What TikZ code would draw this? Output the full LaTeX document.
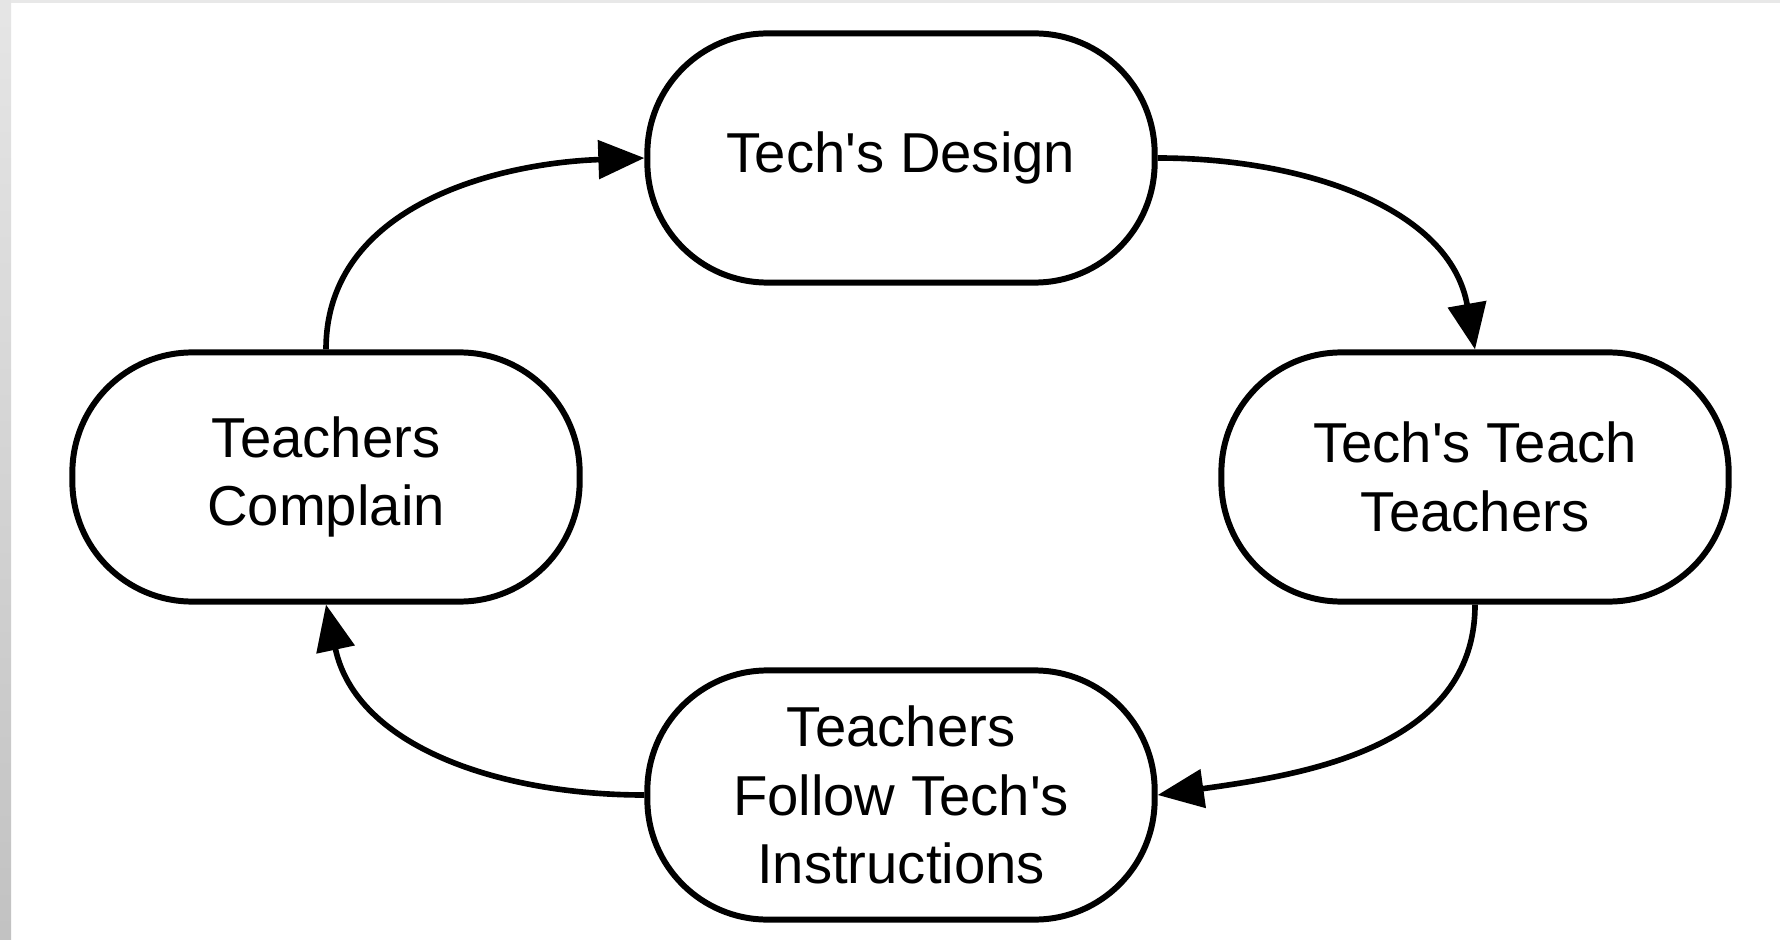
\documentclass[tikz,border=0pt]{standalone}
\usepackage{fontspec}
\setmainfont{Liberation Sans}[Ligatures=TeXOff]
\usetikzlibrary{arrows.meta}

\begin{document}
\begin{tikzpicture}[x=0.01cm, y=0.01cm,
		stage/.style={draw, line width=1.7pt, rounded corners=1.2cm, minimum width=5.07cm,
			minimum height=2.49cm, align=center, font=\fontsize{16pt}{19.5pt}\selectfont},
		flow/.style={line width=1.6pt, -{Triangle[length=0.46cm, width=0.38cm]}}]
	\useasboundingbox (0, 0) rectangle (1780, 939);
	\fill[white](0, 0) rectangle (1780, 939);
	\shade[top color=black!10, bottom color=black!24](0, 0) rectangle (11, 939);
	\fill[black!9](11, 936) rectangle (1780, 939);
	\node[stage] (design) at (901, 781) {Tech's Design};
	\node[stage] (teach) at (1475, 462) {Tech's Teach\\Teachers};
	\node[stage] (follow) at (901, 144) {Teachers\\Follow Tech's\\Instructions};
	\node[stage] (complain) at (326, 462) {Teachers\\Complain};
	\draw[flow](design.east) to[out=0, in=100] (teach.north);
	\draw[flow](teach.south) to[out=-90, in=8] (follow.east);
	\draw[flow](follow.west) to[out=180, in=-78] (complain.south);
	\draw[flow](complain.north) to[out=90, in=182] (design.west);
\end{tikzpicture}
\end{document}
